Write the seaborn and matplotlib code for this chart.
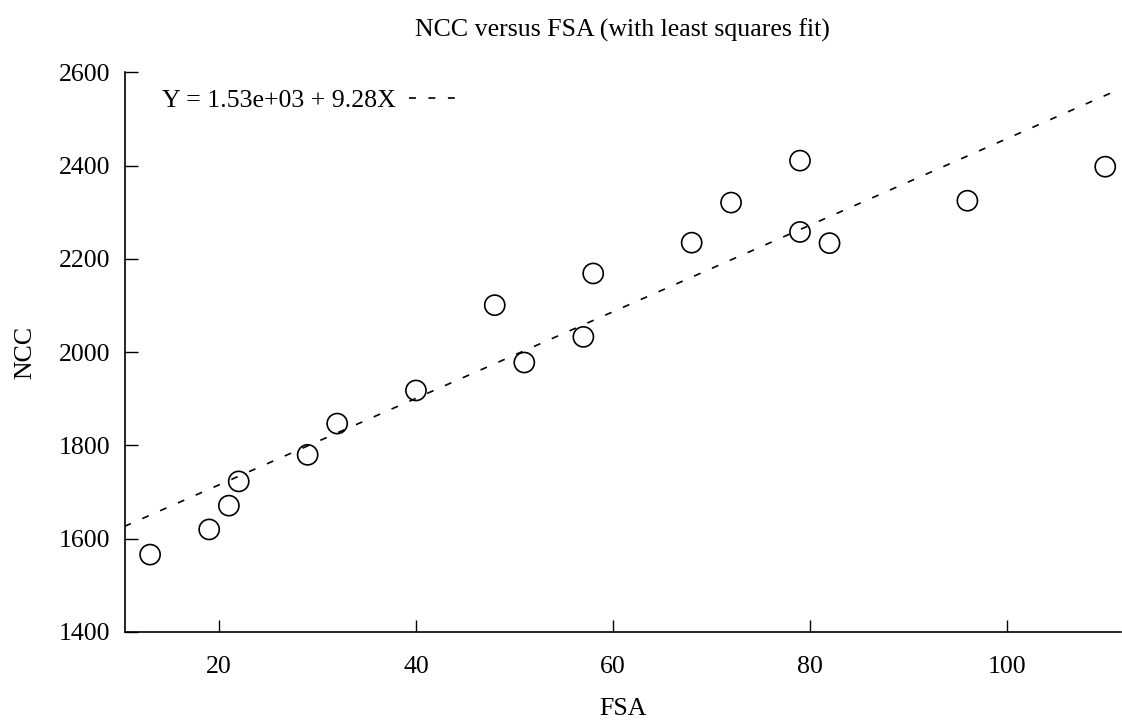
import matplotlib
matplotlib.use("Agg")
import matplotlib.pyplot as plt
import seaborn as sns
import numpy as np
import pandas as pd

# ---- data ----
fsa = [13, 19, 21, 22, 29, 32, 40, 48, 51, 57, 58, 68, 72, 79, 79, 82, 96, 110]
ncc = [1566, 1620, 1671, 1723, 1780, 1847, 1918, 2101, 1978, 2033, 2169, 2235,
       2321, 2411, 2258, 2234, 2325, 2398]
fit_intercept = 1530.0
fit_slope = 9.28
x_ticks = [20, 40, 60, 80, 100]
y_ticks = [1400, 1600, 1800, 2000, 2200, 2400, 2600]
x_limits = [10.4, 111.6]
y_limits = [1400, 2600]
title_text = "NCC versus FSA (with least squares fit)"
x_label = "FSA"
y_label = "NCC"
fit_label = "Y = 1.53e+03 + 9.28X"

sns.set_theme(style="ticks")
plt.rcParams["font.family"] = ["Liberation Serif", "DejaVu Serif"]
plt.rcParams["lines.scale_dashes"] = False
plt.rcParams["text.color"] = "black"

FS = 18.6
W, H = 1122, 720
fig = plt.figure(figsize=(W / 100, H / 100), dpi=100)
left, right, top, bottom = 124.5, 1121, 72.5, 632
ax = fig.add_axes([left / W, (H - bottom) / H, (right - left) / W, (bottom - top) / H])

df = pd.DataFrame({"FSA": fsa, "NCC": ncc})
ax.set_xlim(*x_limits)
ax.set_ylim(*y_limits)

sns.scatterplot(data=df, x="FSA", y="NCC", ax=ax, marker="o", s=210,
                facecolor="none", edgecolor="black", linewidth=1.2, zorder=3)

xs = np.array(x_limits)
fit_df = pd.DataFrame({"FSA": xs, "NCC": fit_intercept + fit_slope * xs})
sns.lineplot(data=fit_df, x="FSA", y="NCC", ax=ax, color="black",
             linestyle=(0, (5, 9)), linewidth=1.2, label=fit_label, zorder=2)

ax.set_xlim(*x_limits)
ax.set_ylim(*y_limits)
ax.set_xticks(x_ticks)
ax.set_yticks(y_ticks)

sns.despine(ax=ax)
for s in ["left", "bottom"]:
    ax.spines[s].set_linewidth(1.2)
    ax.spines[s].set_color("black")

ax.tick_params(direction="in", length=9, width=1, colors="black", labelsize=FS)
ax.tick_params(axis="x", pad=17)
ax.tick_params(axis="y", pad=10)

ax.set_xlabel(x_label, fontsize=FS, labelpad=14.5, color="black")
ax.set_ylabel(y_label, fontsize=FS, labelpad=16, color="black")
ax.set_title(title_text, fontsize=FS, pad=26, color="black")

ax.legend(loc="upper left", bbox_to_anchor=(0.0273, 0.9884), borderaxespad=0,
          frameon=False, markerfirst=False, handlelength=2.2,
          handletextpad=0.5, fontsize=FS, labelcolor="black")

fig.savefig("out.png", dpi=100, facecolor="white")
